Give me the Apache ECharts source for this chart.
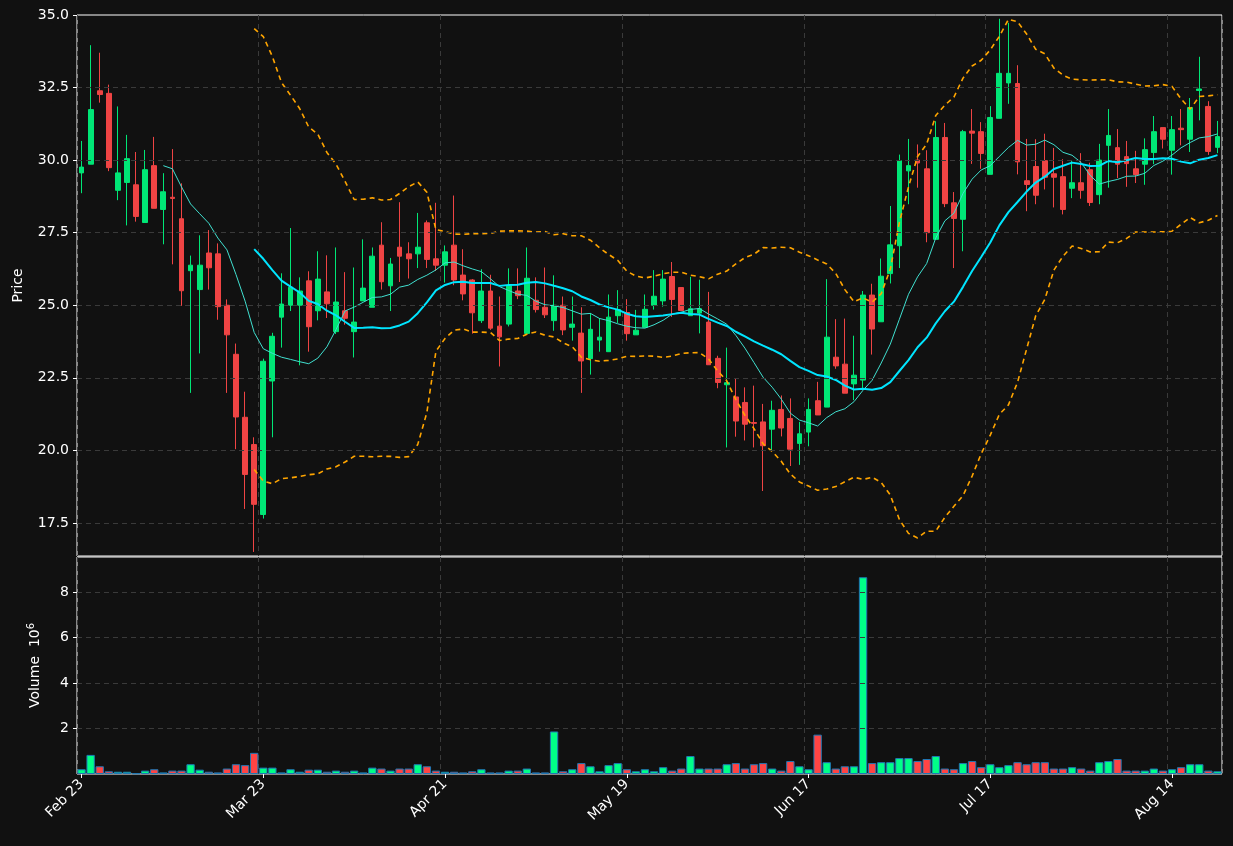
<!DOCTYPE html>
<html><head><meta charset="utf-8">
<script src="https://cdn.jsdelivr.net/npm/echarts@6/dist/echarts.min.js"></script>
<style>html,body{margin:0;padding:0;background:#111111;}#c{width:1233px;height:846px;}</style>
</head><body><div id="c"></div>
<script>
const startDate = '2026-02-23';
const holidays = ['2026-04-03','2026-05-25','2026-06-19','2026-07-03'];
const nDays = 126;
const priceTicks = [17.5,20.0,22.5,25.0,27.5,30.0,32.5,35.0];
const volumeTicks = [2,4,6,8];
const opens = [29.56,29.86,32.39,32.30,28.96,29.23,29.15,27.85,29.81,28.30,28.72,27.98,26.19,25.54,26.80,26.77,25.00,23.31,21.14,20.20,
17.79,22.39,24.59,25.00,25.00,25.84,24.81,25.46,24.09,24.81,24.09,25.15,24.93,27.07,25.67,27.00,26.77,26.77,27.84,26.60,
26.38,27.07,26.04,25.87,24.47,25.49,24.28,24.35,25.49,24.03,25.17,24.93,24.47,25.00,24.24,24.04,23.16,23.80,23.40,24.64,
24.75,23.98,24.24,25.00,25.15,25.99,25.61,24.64,24.73,24.42,23.17,22.26,21.84,21.65,20.96,20.98,20.73,21.41,21.10,20.24,
20.63,21.71,21.49,23.21,22.97,22.29,22.42,25.35,24.43,26.09,27.05,29.63,30.00,29.70,27.27,30.78,28.53,27.96,31.00,30.98,
29.51,31.44,32.66,32.64,29.29,29.78,29.98,29.53,29.43,29.03,29.22,29.67,28.81,30.51,30.43,30.12,29.70,29.86,30.26,31.12,
30.34,31.10,30.72,32.40,31.85,30.44];
const closes = [29.76,31.74,32.26,29.74,29.56,30.05,28.06,29.67,28.34,28.91,28.68,25.50,26.38,26.38,26.29,24.95,23.98,21.15,19.17,18.14,
23.07,23.93,25.04,25.62,25.49,24.26,25.90,25.05,25.11,24.55,24.42,25.59,26.69,25.81,26.42,26.69,26.60,27.00,26.58,26.38,
26.84,25.87,25.39,24.74,25.49,24.21,23.91,25.66,25.33,25.93,24.85,24.67,25.00,24.15,24.35,23.08,24.17,23.90,24.59,24.85,
24.02,24.14,24.86,25.31,25.90,25.20,24.82,24.88,24.88,22.95,22.34,22.33,21.01,20.90,20.93,20.16,21.38,20.77,20.04,20.57,
21.41,21.22,23.90,22.91,21.97,22.59,25.35,24.18,26.00,27.08,29.98,29.81,29.90,27.50,30.78,28.50,27.99,30.98,30.93,30.23,
31.47,32.99,32.99,29.94,29.16,28.79,29.41,29.41,28.30,29.22,28.96,28.54,30.00,30.85,29.86,29.88,29.50,30.36,30.98,30.72,
31.05,31.05,31.81,32.45,30.30,30.81];
const lows = [28.86,29.86,31.98,29.62,28.62,27.75,27.88,27.85,28.34,27.10,26.41,24.98,21.98,23.34,25.54,24.50,21.98,20.04,17.98,16.50,
17.65,20.45,23.54,24.80,22.93,23.40,24.48,24.56,24.01,24.33,23.20,25.15,24.93,25.54,24.80,25.80,25.92,26.28,26.28,26.18,
25.78,25.69,25.17,24.02,24.39,24.15,22.89,24.27,25.21,24.03,24.75,24.56,24.12,23.97,23.78,21.98,22.61,23.40,23.40,24.39,
23.78,23.98,24.24,24.85,24.95,24.60,24.82,24.64,24.03,22.95,22.14,20.10,20.47,20.34,20.10,18.60,20.01,20.48,19.46,19.50,
20.14,21.22,21.49,22.81,21.97,21.73,22.15,23.30,24.43,25.75,26.28,28.48,29.05,27.17,27.27,28.38,26.28,26.86,29.87,29.70,
29.51,31.44,31.94,29.51,28.24,28.48,28.99,28.37,28.13,28.69,28.67,28.42,28.48,29.05,29.38,29.08,29.21,29.15,29.86,30.40,
29.50,30.51,30.28,31.37,30.18,30.24];
const highs = [30.66,33.96,33.70,32.60,31.85,30.87,30.28,30.35,30.80,29.55,30.38,29.20,26.71,27.41,27.59,27.13,25.20,23.68,22.02,20.45,
23.16,24.05,26.10,27.66,25.96,26.17,26.86,26.72,26.99,26.14,26.30,27.27,26.99,27.86,26.63,28.55,27.17,28.18,27.92,28.53,
27.06,28.78,26.93,25.90,26.24,26.05,25.30,26.27,26.27,26.99,25.96,26.30,26.03,25.30,25.30,24.93,24.73,24.56,25.37,25.52,
25.21,24.84,25.37,26.21,26.21,26.49,25.61,25.98,25.88,25.46,23.26,23.54,22.49,22.17,22.23,21.60,21.71,21.89,21.79,20.98,
21.79,22.36,25.90,24.52,24.54,23.95,25.49,25.74,26.61,28.42,30.19,30.73,30.54,30.34,31.34,31.28,28.90,31.04,31.76,31.31,
31.86,34.87,34.73,33.27,30.73,30.72,30.91,30.42,30.03,29.98,30.24,29.91,30.56,31.76,31.07,30.66,30.32,30.75,31.52,31.12,
31.52,31.76,32.14,33.56,32.03,31.35];
const volumes = [0.21,0.84,0.34,0.12,0.10,0.10,0.03,0.15,0.21,0.07,0.15,0.15,0.43,0.19,0.10,0.07,0.24,0.43,0.39,0.93,
0.28,0.28,0.07,0.21,0.10,0.19,0.19,0.10,0.15,0.10,0.15,0.07,0.28,0.24,0.15,0.24,0.24,0.43,0.34,0.15,
0.10,0.10,0.07,0.12,0.21,0.07,0.07,0.15,0.15,0.24,0.07,0.07,1.87,0.12,0.21,0.48,0.34,0.12,0.39,0.48,
0.21,0.12,0.21,0.12,0.30,0.15,0.24,0.79,0.24,0.24,0.24,0.43,0.48,0.24,0.43,0.48,0.24,0.15,0.57,0.34,
0.21,1.73,0.52,0.24,0.34,0.34,8.65,0.48,0.52,0.52,0.70,0.70,0.57,0.66,0.79,0.24,0.21,0.48,0.57,0.30,
0.43,0.30,0.39,0.52,0.43,0.52,0.52,0.24,0.24,0.30,0.24,0.15,0.52,0.57,0.66,0.15,0.15,0.15,0.24,0.15,
0.21,0.30,0.43,0.43,0.15,0.12];

const months = ['Jan','Feb','Mar','Apr','May','Jun','Jul','Aug','Sep','Oct','Nov','Dec'];
const dates = [];
{ let d = new Date(startDate + 'T12:00:00Z');
  while (dates.length < nDays) {
    const iso = d.toISOString().slice(0,10), wd = d.getUTCDay();
    if (wd !== 0 && wd !== 6 && !holidays.includes(iso)) dates.push(months[d.getUTCMonth()] + ' ' + d.getUTCDate());
    d.setUTCDate(d.getUTCDate() + 1);
  } }

function sma(n){ return closes.map((_,i)=> i<n-1 ? null : closes.slice(i-n+1,i+1).reduce((a,b)=>a+b,0)/n); }
const ma10 = sma(10), ma20 = sma(20);
const bbU = [], bbL = [];
closes.forEach((_,i)=>{ if(i<19){bbU.push(null);bbL.push(null);return;}
  const w = closes.slice(i-19,i+1), m = ma20[i];
  const sd = Math.sqrt(w.reduce((a,b)=>a+(b-m)*(b-m),0)/20);
  bbU.push(m+2*sd); bbL.push(m-2*sd); });

const UP='#00e676', DN='#ef4444';
const candle = opens.map((o,i)=>[o,closes[i],lows[i],highs[i]]);
const vol = volumes.map((v,i)=>({value:v, itemStyle:{color: closes[i]>=opens[i]?'#00ff88':'#ff4444'}}));

const tickInt = (i)=> i%20===0;
const gridLine = {show:true, lineStyle:{color:'#3a3a3a', type:[5,4], width:1}};
const chart = echarts.init(document.getElementById('c'));
chart.setOption({
  backgroundColor:'#111111',
  animation:false,
  grid:[{left:77,right:11,top:15,height:541,show:true,borderColor:'#ffffff',borderWidth:1},
        {left:77,right:11,top:557,height:217,show:true,borderColor:'#ffffff',borderWidth:1}],
  xAxis:[{type:'category',gridIndex:0,data:dates,boundaryGap:true,
          axisLine:{show:false},axisTick:{show:false},axisLabel:{show:false},
          splitLine:Object.assign({interval:tickInt},gridLine)},
         {type:'category',gridIndex:1,data:dates,boundaryGap:true,
          axisLine:{show:false},
          axisTick:{show:true,interval:tickInt,alignWithLabel:true,length:4,lineStyle:{color:'#ffffff'}},
          axisLabel:{interval:tickInt,rotate:45,color:'#ffffff',fontSize:14,fontFamily:'DejaVu Sans',margin:8},
          splitLine:Object.assign({interval:tickInt},gridLine)}],
  yAxis:[{type:'value',gridIndex:0,min:16.36,max:35,
          name:'Price',nameLocation:'middle',nameGap:52,nameRotate:90,
          nameTextStyle:{color:'#ffffff',fontSize:14,fontFamily:'DejaVu Sans'},
          axisLine:{show:false},
          axisTick:{show:true,length:4,lineStyle:{color:'#ffffff'},customValues:priceTicks},
          axisLabel:{color:'#ffffff',fontSize:14,fontFamily:'DejaVu Sans',customValues:priceTicks,formatter:(v)=>v.toFixed(1)},
          splitLine:{show:false}},
         {type:'value',gridIndex:1,min:0,max:9.54,
          name:'{a|Volume  10}{b|6}',nameLocation:'middle',nameGap:33,nameRotate:90,
          nameTextStyle:{color:'#ffffff',fontSize:14,fontFamily:'DejaVu Sans',
            rich:{a:{fontSize:14,color:'#ffffff',fontFamily:'DejaVu Sans'},b:{fontSize:10,color:'#ffffff',verticalAlign:'top',padding:[0,0,8,0],fontFamily:'DejaVu Sans'}}},
          axisLine:{show:false},
          axisTick:{show:true,length:4,lineStyle:{color:'#ffffff'},customValues:volumeTicks},
          axisLabel:{color:'#ffffff',fontSize:14,fontFamily:'DejaVu Sans',customValues:volumeTicks},
          splitLine:{show:false}}],
  series:[
    {type:'candlestick',xAxisIndex:0,yAxisIndex:0,data:candle,barWidth:'58%',
     itemStyle:{color:UP,color0:DN,borderColor:UP,borderColor0:DN,borderWidth:1},
     markLine:{silent:true,symbol:['none','none'],label:{show:false},animation:false,
       lineStyle:{color:'#3a3a3a',type:[5,4],width:1},data:priceTicks.slice(0,-1).map(v=>({yAxis:v}))},z:2},
    {type:'line',xAxisIndex:0,yAxisIndex:0,data:ma10,showSymbol:false,lineStyle:{color:'#40e0d0',width:1},z:3},
    {type:'line',xAxisIndex:0,yAxisIndex:0,data:ma20,showSymbol:false,lineStyle:{color:'#00e5ff',width:2},z:3},
    {type:'line',xAxisIndex:0,yAxisIndex:0,data:bbU,showSymbol:false,lineStyle:{color:'#ffa500',width:1.6,type:[5,4]},z:3},
    {type:'line',xAxisIndex:0,yAxisIndex:0,data:bbL,showSymbol:false,lineStyle:{color:'#ffa500',width:1.6,type:[5,4]},z:3},
    {type:'bar',xAxisIndex:1,yAxisIndex:1,data:vol,barWidth:'92%',itemStyle:{borderColor:'#1f77b4',borderWidth:1},
     markLine:{silent:true,symbol:['none','none'],label:{show:false},animation:false,
       lineStyle:{color:'#3a3a3a',type:[5,4],width:1},data:volumeTicks.map(v=>({yAxis:v}))}}
  ]
});
</script></body></html>
